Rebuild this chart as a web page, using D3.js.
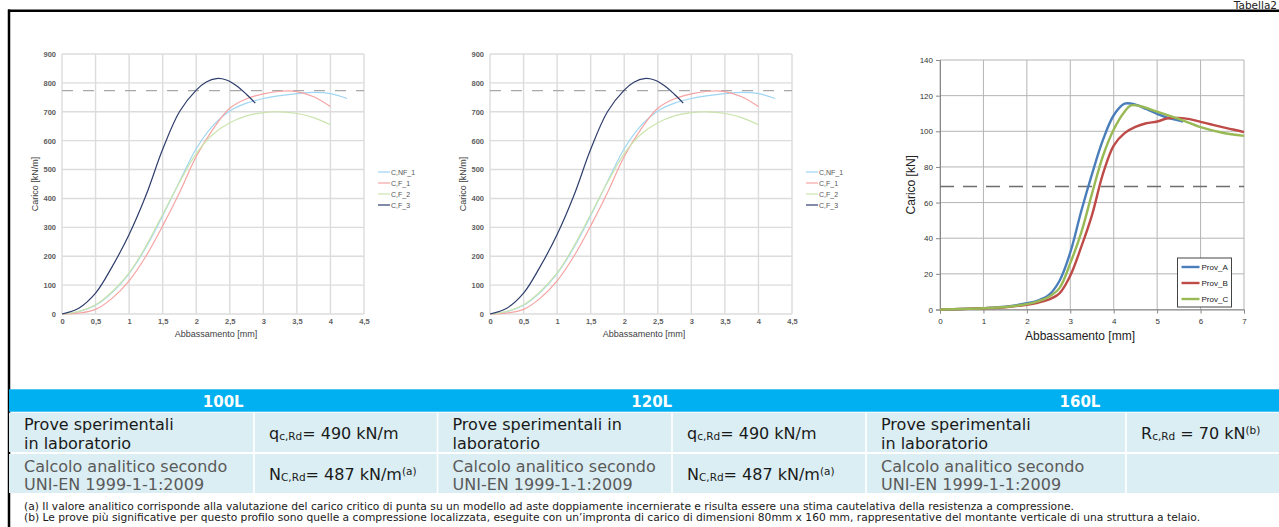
<!DOCTYPE html>
<html>
<head>
<meta charset="utf-8">
<script src="https://cdn.jsdelivr.net/npm/d3@7"></script>
<style>
  body { margin: 0; background: #fff; }
  svg { display: block; }
</style>
</head>
<body>
<div id="page"></div>
<script>
// grafici 100L / 120L (stessi dati nei due pannelli)
var xTicksL = [0, 0.5, 1, 1.5, 2, 2.5, 3, 3.5, 4, 4.5];
var yTicksL = [0, 100, 200, 300, 400, 500, 600, 700, 800, 900];
var seriesL = ["C,NF_1", "C,F_1", "C,F_2", "C,F_3"];
var cNF1 = [[0, 0], [0.25, 8], [0.5, 30], [0.75, 75], [1, 140], [1.25, 230], [1.5, 340], [1.75, 458], [2, 572], [2.25, 652], [2.5, 703], [2.75, 730], [3, 746], [3.25, 756], [3.5, 763], [3.75, 767], [4, 763], [4.25, 746]];
var cF1 = [[0, 0], [0.25, 3], [0.5, 16], [0.75, 55], [1, 115], [1.25, 200], [1.5, 305], [1.75, 420], [2, 545], [2.25, 640], [2.5, 712], [2.75, 745], [3, 762], [3.25, 771], [3.5, 770], [3.75, 752], [4, 718]];
var cF2 = [[0, 0], [0.25, 9], [0.5, 32], [0.75, 78], [1, 142], [1.25, 235], [1.5, 345], [1.75, 455], [2, 555], [2.25, 622], [2.5, 662], [2.75, 686], [3, 697], [3.25, 700], [3.5, 694], [3.75, 680], [4, 655]];
var cF3 = [[0, 0], [0.25, 20], [0.5, 72], [0.75, 165], [1, 275], [1.25, 410], [1.5, 570], [1.75, 700], [2, 775], [2.15, 803], [2.3, 815], [2.45, 810], [2.6, 790], [2.75, 760], [2.88, 730]];
var limitL = 773;

// grafico 160L
var xTicks160 = [0, 1, 2, 3, 4, 5, 6, 7];
var yTicks160 = [0, 20, 40, 60, 80, 100, 120, 140];
var series160 = ["Prov_A", "Prov_B", "Prov_C"];
var provA = [[0, 0], [0.5, 0.3], [1, 0.8], [1.5, 1.6], [2, 3.5], [2.25, 5], [2.5, 8], [2.75, 16], [3, 32], [3.25, 55], [3.5, 76], [3.75, 95], [4, 109], [4.25, 115.5], [4.5, 115], [4.75, 112.5], [5, 109.8], [5.25, 107.5], [5.6, 105.5]];
var provB = [[0, 0], [0.5, 0.3], [1, 0.7], [1.5, 1.3], [2, 2.7], [2.25, 3.8], [2.5, 5.5], [2.75, 9], [3, 19], [3.25, 35], [3.5, 53], [3.75, 76], [4, 92], [4.25, 99], [4.5, 102.5], [4.75, 104.5], [5, 105.5], [5.25, 107.3], [5.5, 107.5], [5.75, 106.8], [6, 105.3], [6.25, 103.8], [6.5, 102.3], [6.75, 101], [7, 99.5]];
var provC = [[0, 0], [0.5, 0.3], [1, 0.7], [1.5, 1.4], [2, 3], [2.25, 4.5], [2.5, 7], [2.75, 12], [3, 26], [3.25, 43], [3.5, 65], [3.75, 86], [4, 101], [4.25, 111], [4.4, 114.5], [4.6, 114.2], [5, 111], [5.5, 106.9], [6, 102.3], [6.5, 99.2], [7, 97.4]];
var limit160 = 69;

// tabella
var groupNames = ["100L", "120L", "160L"];
var labelsTop = [["Prove sperimentali", "in laboratorio"], ["Prove sperimentali in", "laboratorio"], ["Prove sperimentali", "in laboratorio"]];
var labelsBottom = [["Calcolo analitico secondo", "UNI-EN 1999-1-1:2009"], ["Calcolo analitico secondo", "UNI-EN 1999-1-1:2009"], ["Calcolo analitico secondo", "UNI-EN 1999-1-1:2009"]];
var valuesTop = [["q", "c,Rd", "= 490 kN/m", ""], ["q", "c,Rd", "= 490 kN/m", ""], ["R", "c,Rd", " = 70 kN", "(b)"]];
var valuesBottom = [["N", "C,Rd", "= 487 kN/m", "(a)"], ["N", "C,Rd", "= 487 kN/m", "(a)"], null];
var notes = [
  "(a) Il valore analitico corrisponde alla valutazione del carico critico di punta su un modello ad aste doppiamente incernierate e risulta essere una stima cautelativa della resistenza a compressione.",
  "(b) Le prove più significative per questo profilo sono quelle a compressione localizzata, eseguite con un’impronta di carico di dimensioni 80mm x 160 mm, rappresentative del montante verticale di una struttura a telaio."
];

var W = 1279, H = 527;
var svg = d3.select("#page").append("svg").attr("width", W).attr("height", H);
svg.append("rect").attr("width", W).attr("height", H).attr("fill", "#fff");

var arial = "'Liberation Sans', Arial, sans-serif",
  verdana = "'DejaVu Sans', Verdana, sans-serif";

// cornice
svg.append("text").attr("x", 1277).attr("y", 9).attr("text-anchor", "end")
  .attr("font-family", verdana).attr("font-size", 10.5).attr("fill", "#222").text("Tabella2");
svg.append("line").attr("x1", 8).attr("x2", W).attr("y1", 10.8).attr("y2", 10.8)
  .attr("stroke", "#000").attr("stroke-width", 2.5);
svg.append("line").attr("x1", 9).attr("x2", 9).attr("y1", 9.5).attr("y2", H)
  .attr("stroke", "#000").attr("stroke-width", 2.5);

function commaFmt(d) {
  return String(d).replace(".", ",");
}

// pannello piccolo (100L, 120L)
function drawSmall(left) {
  var right = left + 302,
    top = 54,
    bottom = 314;
  var x = d3.scaleLinear().domain([0, 4.5]).range([left, right]);
  var y = d3.scaleLinear().domain([0, 900]).range([bottom, top]);
  var g = svg.append("g");
  var colors = ["#9fd6f3", "#f6a3a3", "#cbe4ad", "#2e3d6c"];
  var data = [cNF1, cF1, cF2, cF3];

  g.selectAll(".gx").data(xTicksL).enter().append("line")
    .attr("x1", function(d) { return x(d); }).attr("x2", function(d) { return x(d); })
    .attr("y1", top).attr("y2", bottom)
    .attr("stroke", "#dcdcdc").attr("stroke-width", 1.4);
  g.selectAll(".gy").data(yTicksL).enter().append("line")
    .attr("x1", left).attr("x2", right)
    .attr("y1", function(d) { return y(d); }).attr("y2", function(d) { return y(d); })
    .attr("stroke", "#dcdcdc").attr("stroke-width", 1.4);

  var ax = g.append("g").attr("transform", "translate(0," + bottom + ")")
    .call(d3.axisBottom(x).tickValues(xTicksL).tickFormat(commaFmt).tickSize(0).tickPadding(5));
  var ay = g.append("g").attr("transform", "translate(" + left + ",0)")
    .call(d3.axisLeft(y).tickValues(yTicksL).tickSize(0).tickPadding(6));
  [ax, ay].forEach(function(a) {
    a.select(".domain").remove();
    a.selectAll("text").attr("font-family", arial).attr("font-size", 7.5)
      .attr("font-weight", "bold").attr("fill", "#606060");
  });

  // linea di riferimento
  g.append("line").attr("x1", left).attr("x2", right)
    .attr("y1", y(limitL)).attr("y2", y(limitL))
    .attr("stroke", "#a8a8a8").attr("stroke-width", 1.3).attr("stroke-dasharray", "11,10");

  var line = d3.line()
    .x(function(d) { return x(d[0]); })
    .y(function(d) { return y(d[1]); })
    .curve(d3.curveCatmullRom.alpha(0.5));
  g.selectAll(".serie").data(data).enter().append("path")
    .attr("d", line).attr("fill", "none")
    .attr("stroke", function(d, i) { return colors[i]; })
    .attr("stroke-width", 1.2);

  g.append("text").attr("x", (left + right) / 2 + 3).attr("y", 337).attr("text-anchor", "middle")
    .attr("font-family", arial).attr("font-size", 9).attr("fill", "#404040")
    .text("Abbassamento [mm]");
  g.append("text").attr("transform", "translate(" + (left - 24) + "," + ((top + bottom) / 2) + ") rotate(-90)")
    .attr("text-anchor", "middle").attr("font-family", arial).attr("font-size", 9).attr("fill", "#404040")
    .text("Carico [kN/m]");

  // legenda
  var lg = g.append("g").attr("transform", "translate(" + (right + 14) + ",172)");
  seriesL.forEach(function(name, i) {
    lg.append("line").attr("x1", 0).attr("x2", 12).attr("y1", i * 11).attr("y2", i * 11)
      .attr("stroke", colors[i]).attr("stroke-width", 1.2);
    lg.append("text").attr("x", 13).attr("y", i * 11 + 2.5)
      .attr("font-family", arial).attr("font-size", 7).attr("fill", "#555").text(name);
  });
}

drawSmall(62);
drawSmall(490);

// pannello 160L
(function() {
  var left = 940,
    right = 1244,
    top = 60,
    bottom = 309.5;
  var x = d3.scaleLinear().domain([0, 7]).range([left, right]);
  var y = d3.scaleLinear().domain([0, 140]).range([bottom, top]);
  var g = svg.append("g");
  var colors = ["#4a7ebb", "#be4b48", "#98b954"];
  var data = [provA, provB, provC];

  g.selectAll(".gx").data(xTicks160).enter().append("line")
    .attr("x1", function(d) { return x(d); }).attr("x2", function(d) { return x(d); })
    .attr("y1", top).attr("y2", bottom)
    .attr("stroke", "#b4b4b4").attr("stroke-width", 1);
  g.selectAll(".gy").data(yTicks160).enter().append("line")
    .attr("x1", left).attr("x2", right)
    .attr("y1", function(d) { return y(d); }).attr("y2", function(d) { return y(d); })
    .attr("stroke", "#b4b4b4").attr("stroke-width", 1);

  var ax = g.append("g").attr("transform", "translate(0," + bottom + ")")
    .call(d3.axisBottom(x).tickValues(xTicks160).tickFormat(d3.format("d")).tickSize(4).tickPadding(5));
  var ay = g.append("g").attr("transform", "translate(" + left + ",0)")
    .call(d3.axisLeft(y).tickValues(yTicks160).tickFormat(d3.format("d")).tickSize(4).tickPadding(3));
  [ax, ay].forEach(function(a) {
    a.select(".domain").attr("stroke", "#888");
    a.selectAll(".tick line").attr("stroke", "#888");
    a.selectAll("text").attr("font-family", arial).attr("font-size", 8).attr("fill", "#333");
  });

  g.append("line").attr("x1", left).attr("x2", right)
    .attr("y1", y(limit160)).attr("y2", y(limit160))
    .attr("stroke", "#6e6e6e").attr("stroke-width", 1.5).attr("stroke-dasharray", "14,9");

  var line = d3.line()
    .x(function(d) { return x(d[0]); })
    .y(function(d) { return y(d[1]); })
    .curve(d3.curveCatmullRom.alpha(0.5));
  g.selectAll(".serie").data(data).enter().append("path")
    .attr("d", line).attr("fill", "none")
    .attr("stroke", function(d, i) { return colors[i]; })
    .attr("stroke-width", 2.4);

  g.append("text").attr("x", 1080).attr("y", 340).attr("text-anchor", "middle")
    .attr("font-family", arial).attr("font-size", 12).attr("fill", "#222")
    .text("Abbassamento [mm]");
  g.append("text").attr("transform", "translate(915," + ((top + bottom) / 2) + ") rotate(-90)")
    .attr("text-anchor", "middle").attr("font-family", arial).attr("font-size", 12).attr("fill", "#222")
    .text("Carico [kN]");

  // legenda
  var lg = g.append("g").attr("transform", "translate(1177.5,258)");
  lg.append("rect").attr("width", 54).attr("height", 49)
    .attr("fill", "#fff").attr("stroke", "#444").attr("stroke-width", 1);
  series160.forEach(function(name, i) {
    lg.append("line").attr("x1", 4).attr("x2", 22).attr("y1", 9 + i * 16).attr("y2", 9 + i * 16)
      .attr("stroke", colors[i]).attr("stroke-width", 2.4);
    lg.append("text").attr("x", 24).attr("y", 12 + i * 16)
      .attr("font-family", arial).attr("font-size", 8).attr("fill", "#222").text(name);
  });
})();

// tabella
var colX = [9, 254, 437.5, 672, 866, 1126, 1294];
var headTop = 389.3, headBottom = 411.7;
var rowTops = [412.7, 454], rowBottoms = [452, 493];

svg.append("rect").attr("x", 9).attr("y", headTop).attr("width", W - 9).attr("height", headBottom - headTop)
  .attr("fill", "#00b0f0");
svg.selectAll(".grp").data(groupNames).enter().append("text")
  .attr("x", function(d, i) { return (colX[i * 2] + colX[i * 2 + 2]) / 2; })
  .attr("y", 406.5).attr("text-anchor", "middle")
  .attr("font-family", verdana).attr("font-size", 15).attr("font-weight", "bold").attr("fill", "#fff")
  .text(function(d) { return d; });

rowTops.forEach(function(t, r) {
  for (var c = 0; c < colX.length - 1; c++) {
    svg.append("rect").attr("x", colX[c] + (c ? 0.8 : 0)).attr("y", t)
      .attr("width", colX[c + 1] - colX[c] - (c ? 1.6 : 0.8)).attr("height", rowBottoms[r] - t)
      .attr("fill", "#daeef3");
  }
});

function addLabel(lines, c, r) {
  var base = r === 0 ? 430 : 471.5;
  lines.forEach(function(s, k) {
    svg.append("text").attr("x", colX[c] + 15).attr("y", base + k * 18.5)
      .attr("font-family", verdana).attr("font-size", 16)
      .attr("fill", r === 0 ? "#1a1a1a" : "#5a5a5a").text(s);
  });
}

function addValue(v, c, r) {
  if (!v) return;
  var t = svg.append("text").attr("x", colX[c] + 15).attr("y", r === 0 ? 438.5 : 479.5)
    .attr("font-family", verdana).attr("font-size", 16).attr("fill", "#1a1a1a");
  t.append("tspan").text(v[0]);
  t.append("tspan").attr("font-size", 10.5).attr("dy", 1).text(v[1]);
  t.append("tspan").attr("dy", -1).text(v[2]);
  if (v[3]) t.append("tspan").attr("font-size", 10.5).attr("dy", -5).text(v[3]);
}

groupNames.forEach(function(g, i) {
  addLabel(labelsTop[i], i * 2, 0);
  addLabel(labelsBottom[i], i * 2, 1);
  addValue(valuesTop[i], i * 2 + 1, 0);
  addValue(valuesBottom[i], i * 2 + 1, 1);
});

// note
svg.selectAll(".nota").data(notes).enter().append("text")
  .attr("x", 24).attr("y", function(d, i) { return 509.5 + i * 11; })
  .attr("font-family", verdana).attr("font-size", 10.7).attr("fill", "#1a1a1a")
  .text(function(d) { return d; });
</script>
</body>
</html>
